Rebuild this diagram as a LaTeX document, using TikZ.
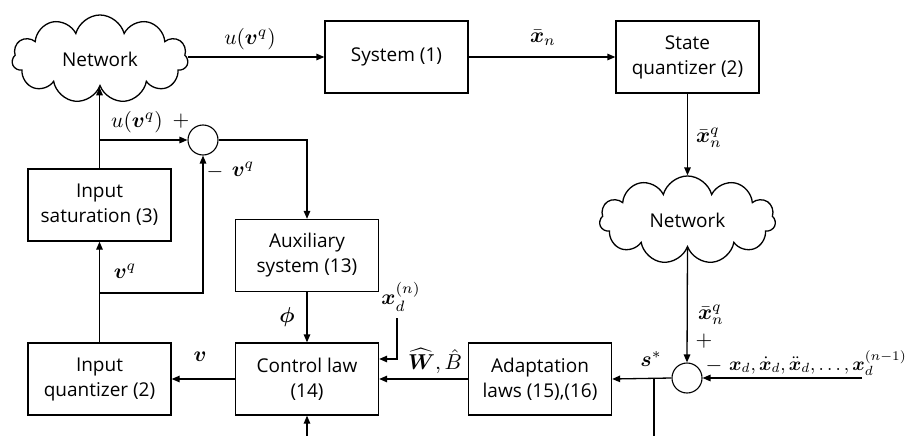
\documentclass[tikz,border=0pt]{standalone}
\usepackage{amsmath,amssymb,bm}
\usepackage{fontspec}
\setmainfont{Open Sans}
\usetikzlibrary{shapes.symbols,arrows.meta}
\newcommand\lbl[1]{\scalebox{2.15}{$#1$}}
\begin{document}
\begin{tikzpicture}[x=1pt,y=-1pt,
  box/.style={draw,line width=1.3pt,minimum width=143pt,minimum height=72pt,align=center,inner sep=0pt,font=\fontsize{19}{25}\selectfont},
  net/.style={cloud,draw,cloud puffs=11,cloud ignores aspect,minimum width=176pt,minimum height=88pt,line width=1.3pt,font=\fontsize{19}{22}\selectfont},
  sumc/.style={circle,draw,minimum size=30pt,inner sep=0pt,line width=1.1pt},
  arr/.style={-{Triangle[length=8pt,width=6.5pt]},line width=1.3pt},
  ln/.style={line width=1.3pt},
  lab/.style={font=\fontsize{10}{12}\selectfont,inner sep=0pt}
]
\useasboundingbox (0,0) rectangle (915,436);
% blocks
\node[net] (net1) at (100,59) {Network};
\node[box] (sys) at (396.5,57) {System (1)};
\node[box] (sq) at (687.5,57) {State\\quantizer (2)};
\node[net] (net2) at (687.5,220) {Network};
\node[sumc] (s2) at (687,378) {};
\node[box] (ad) at (540,379) {Adaptation\\laws (15),(16)};
\node[box] (cl) at (307,379) {Control law\\(14)};
\node[box] (aux) at (307,255.5) {Auxiliary\\system (13)};
\node[box] (iq) at (99.5,379) {Input\\quantizer (2)};
\node[box] (is) at (99.5,205) {Input\\saturation (3)};
\node[sumc] (s1) at (203,140) {};
% coordinates
\coordinate (xd) at (862,378);
\coordinate (sj) at (654,378);
\coordinate (sb) at (654,436);
\coordinate (xdn) at (397,318);
\coordinate (cb) at (307,436);
\coordinate (vq) at (99.5,293);
\coordinate (uq) at (99.5,140);
% connectors
\draw[arr] (sys.west -| net1.east) -- (sys.west);
\draw[arr] (sys.east) -- (sq.west);
\draw[arr] (sq.south) -- (net2.north);
\draw[arr] (net2.south) -- (s2.north);
\draw[arr] (xd) -- (s2.east);
\draw[arr] (s2.west) -- (ad.east);
\draw[ln] (sj) -- (sb);
\draw[arr] (ad.west) -- (cl.east);
\draw[arr] (xdn) |- ([yshift=20pt]cl.east);
\draw[arr] (aux.south) -- (cl.north);
\draw[arr] (cb) -- (cl.south);
\draw[arr] (cl.west) -- (iq.east);
\draw[arr] (iq.north) -- (is.south);
\draw[arr] (vq) -| (s1.south);
\draw[arr] (is.north) -- (is.north |- net1.south);
\draw[arr] (uq) -- (s1.west);
\draw[arr] (s1.east) -| (aux.north);
% labels
\node[lab] (l1) at (250,39) {\lbl{u(\bm{v}^q)}};
\node[lab] (l2) at (543,38) {\lbl{\bar{\bm{x}}_n}};
\node[lab] (l3) at (709,138) {\lbl{\bar{\bm{x}}_n^q}};
\node[lab] (l4) at (711,315) {\lbl{\bar{\bm{x}}_n^q}};
\node[lab] (l5) at (704,341) {\lbl{+}};
\node[lab] (l6) at (714,366) {\lbl{-}};
\node[lab,anchor=base west] (l7) at (729,370) {\scalebox{1.9}{$\bm{x}_d, \dot{\bm{x}}_d, \ddot{\bm{x}}_d, \dots, \bm{x}_d^{(n-1)}$}};
\node[lab] (l8) at (651,359) {\lbl{\bm{s}^{*}}};
\node[lab] (l9) at (435,361) {\lbl{\widehat{\bm{W}}, \hat{B}}};
\node[lab] (l10) at (401,297) {\lbl{\bm{x}_d^{(n)}}};
\node[lab] (l11) at (287,317) {\lbl{\bm{\phi}}};
\node[lab] (l12) at (200,357) {\lbl{\bm{v}}};
\node[lab] (l13) at (125,271) {\lbl{\bm{v}^q}};
\node[lab] (l14) at (137,122) {\lbl{u(\bm{v}^q)}};
\node[lab] (l15) at (181,121) {\lbl{+}};
\node[lab] (l16) at (215,172) {\lbl{-}};
\node[lab] (l17) at (243,169) {\lbl{\bm{v}^q}};
\end{tikzpicture}
\end{document}
